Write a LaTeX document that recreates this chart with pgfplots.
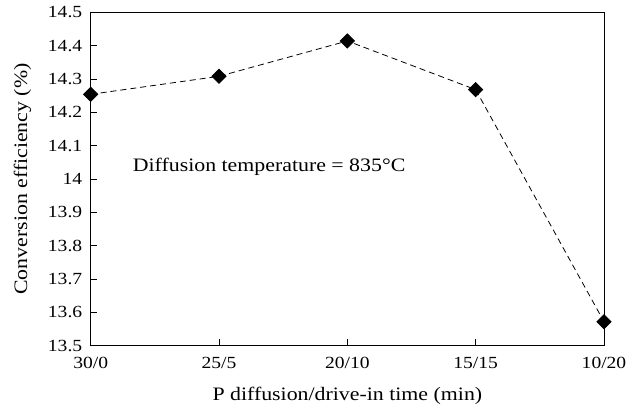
\documentclass[border=0pt]{standalone}
\usepackage{pgfplots}
\pgfplotsset{compat=1.18}
\usepackage{fontspec}
\setmainfont[FakeStretch=1.15]{Liberation Serif}
\begin{document}
\begin{tikzpicture}
\begin{axis}[
  scale only axis,
  width=513.3pt, height=333.4pt,
  xmin=0, xmax=4, ymin=13.5, ymax=14.5,
  xtick={0,1,2,3,4},
  xticklabels={30/0,25/5,20/10,15/15,10/20},
  ytick={13.5,13.6,13.7,13.8,13.9,14,14.1,14.2,14.3,14.4,14.5},
  yticklabels={13.5,13.6,13.7,13.8,13.9,14,14.1,14.2,14.3,14.4,14.5},
  xtick pos=left, ytick pos=left,
  tick align=inside,
  major tick length=6.7pt,
  axis line style={line width=0.9pt},
  every tick/.style={line width=0.9pt, black},
  ticklabel style={font=\fontsize{17}{20}\selectfont},
  yticklabel style={xshift=-5pt},
  xticklabel style={yshift=-8pt},
  label style={font=\fontsize{19}{22}\selectfont},
  /pgf/number format/assume math mode=true,
  xlabel={P diffusion/drive-in time (min)},
  ylabel={Conversion efficiency (\%)},
  xlabel style={at={([yshift=-50.5pt]axis description cs:0.5,0)}, anchor=center},
  ylabel style={at={([xshift=-68.2pt]axis description cs:0,0.5)}, anchor=center, rotate=0},
  clip=false,
]
\addplot[black, line width=0.8pt, dash pattern=on 6pt off 4pt,
  mark=square*, mark size=5pt, mark options={solid, rotate=45, fill=black}]
  coordinates {(0,14.254) (1,14.308) (2,14.414) (3,14.268) (4,13.572)};
\node[font=\fontsize{19}{22}\selectfont] at (axis cs:1.39,14.036) {Diffusion temperature = 835°C};
\end{axis}
\path ([xshift=-90.7pt,yshift=-64.3pt]current axis.south west) rectangle ([xshift=36pt,yshift=12.3pt]current axis.north east);
\end{tikzpicture}
\end{document}
